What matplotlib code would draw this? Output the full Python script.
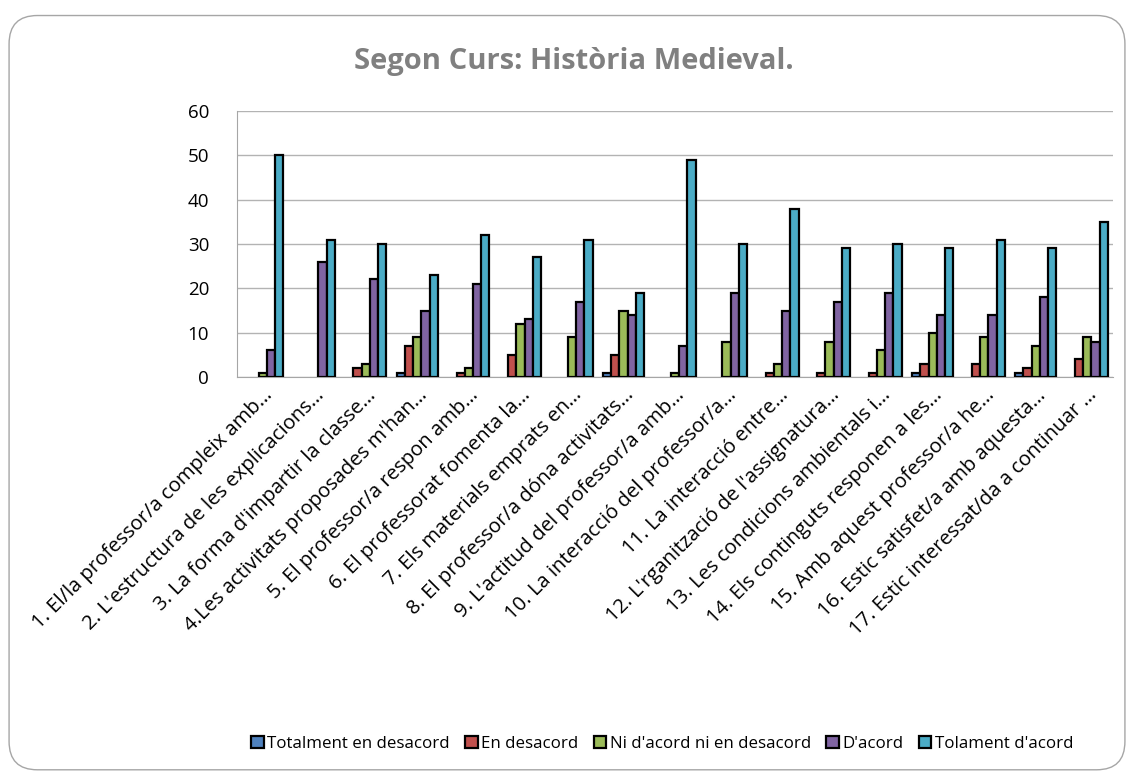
import matplotlib
matplotlib.use("Agg")
import matplotlib.pyplot as plt
import numpy as np
from matplotlib.patches import FancyBboxPatch

categories = [
    "1. El/la professor/a compleix amb…",
    "2. L'estructura de les explicacions…",
    "3. La forma d'impartir la classe…",
    "4.Les activitats proposades m'han…",
    "5. El professor/a respon amb…",
    "6. El professorat fomenta la…",
    "7. Els materials emprats en…",
    "8. El professor/a dóna activitats…",
    "9. L'actitud del professor/a amb…",
    "10. La interacció del professor/a…",
    "11. La interacció entre…",
    "12. L'rganització de l'assignatura…",
    "13. Les condicions ambientals i…",
    "14. Els continguts responen a les…",
    "15. Amb aquest professor/a he…",
    "16. Estic satisfet/a amb aquesta…",
    "17. Estic interessat/da a continuar …",
]
series_names = ["Totalment en desacord", "En desacord", "Ni d'acord ni en desacord",
                "D'acord", "Tolament d'acord"]
totalment_desacord = [0, 0, 0, 1, 0, 0, 0, 1, 0, 0, 0, 0, 0, 1, 0, 1, 0]
en_desacord = [0, 0, 2, 7, 1, 5, 0, 5, 0, 0, 1, 1, 1, 3, 3, 2, 4]
ni_acord = [1, 0, 3, 9, 2, 12, 9, 15, 1, 8, 3, 8, 6, 10, 9, 7, 9]
d_acord = [6, 26, 22, 15, 21, 13, 17, 14, 7, 19, 15, 17, 19, 14, 14, 18, 8]
tolament_acord = [50, 31, 30, 23, 32, 27, 31, 19, 49, 30, 38, 29, 30, 29, 31, 29, 35]
series = [totalment_desacord, en_desacord, ni_acord, d_acord, tolament_acord]
colors = ["#4F81BD", "#C0504D", "#9BBB59", "#8064A2", "#4BACC6"]

plt.rcParams['font.family'] = ['Open Sans', 'DejaVu Sans']
fig = plt.figure(figsize=(11.34, 7.76), dpi=100)

border = FancyBboxPatch((0.008, 0.008), 0.984, 0.972, boxstyle="round,pad=0,rounding_size=0.025",
                        transform=fig.transFigure, facecolor='none', edgecolor='#A6A6A6',
                        linewidth=1.0, figure=fig, mutation_aspect=1134/776, zorder=-5)
fig.patches.append(border)

ax = fig.add_axes([237/1134, 1 - 377/776, (1113 - 237)/1134, (377 - 111)/776])
ax.set_facecolor('none')
x = np.arange(len(categories))
bw = 0.16
for i, (vals, c, name) in enumerate(zip(series, colors, series_names)):
    v = np.array(vals, dtype=float)
    nz = v > 0
    ax.bar(x[nz] + (i - 2) * bw, v[nz], bw, color=c, edgecolor='black', linewidth=1.6,
           label=name, zorder=3)

ax.set_xlim(-0.5, len(categories) - 0.5)
ax.set_ylim(0, 60)
ax.set_yticks(range(0, 61, 10))
ax.yaxis.grid(True, color='#B3B3B3', linewidth=1.0, zorder=0)
ax.tick_params(axis='y', length=0, labelsize=13.5, pad=20)
ax.tick_params(axis='x', length=0, pad=6)
for s in ['top', 'right']:
    ax.spines[s].set_visible(False)
ax.spines['left'].set_color('#A6A6A6')
ax.spines['bottom'].set_color('#A6A6A6')
ax.set_xticks(x)
ax.set_xticklabels(categories, rotation=45, ha='right', rotation_mode='anchor', fontsize=14.6)

fig.text(0.506, 1 - 62/776, "Segon Curs: Història Medieval.", ha='center', va='center',
         fontsize=21, fontweight='bold', color='#808080')

handles, labels = ax.get_legend_handles_labels()
leg = fig.legend(handles, labels, loc='center', bbox_to_anchor=(0.584, 1 - 744/776), ncol=5,
                 frameon=False, fontsize=12.2, handlelength=0.75, handleheight=0.75,
                 handletextpad=0.2, columnspacing=0.9)

fig.savefig("out.png", dpi=100)
